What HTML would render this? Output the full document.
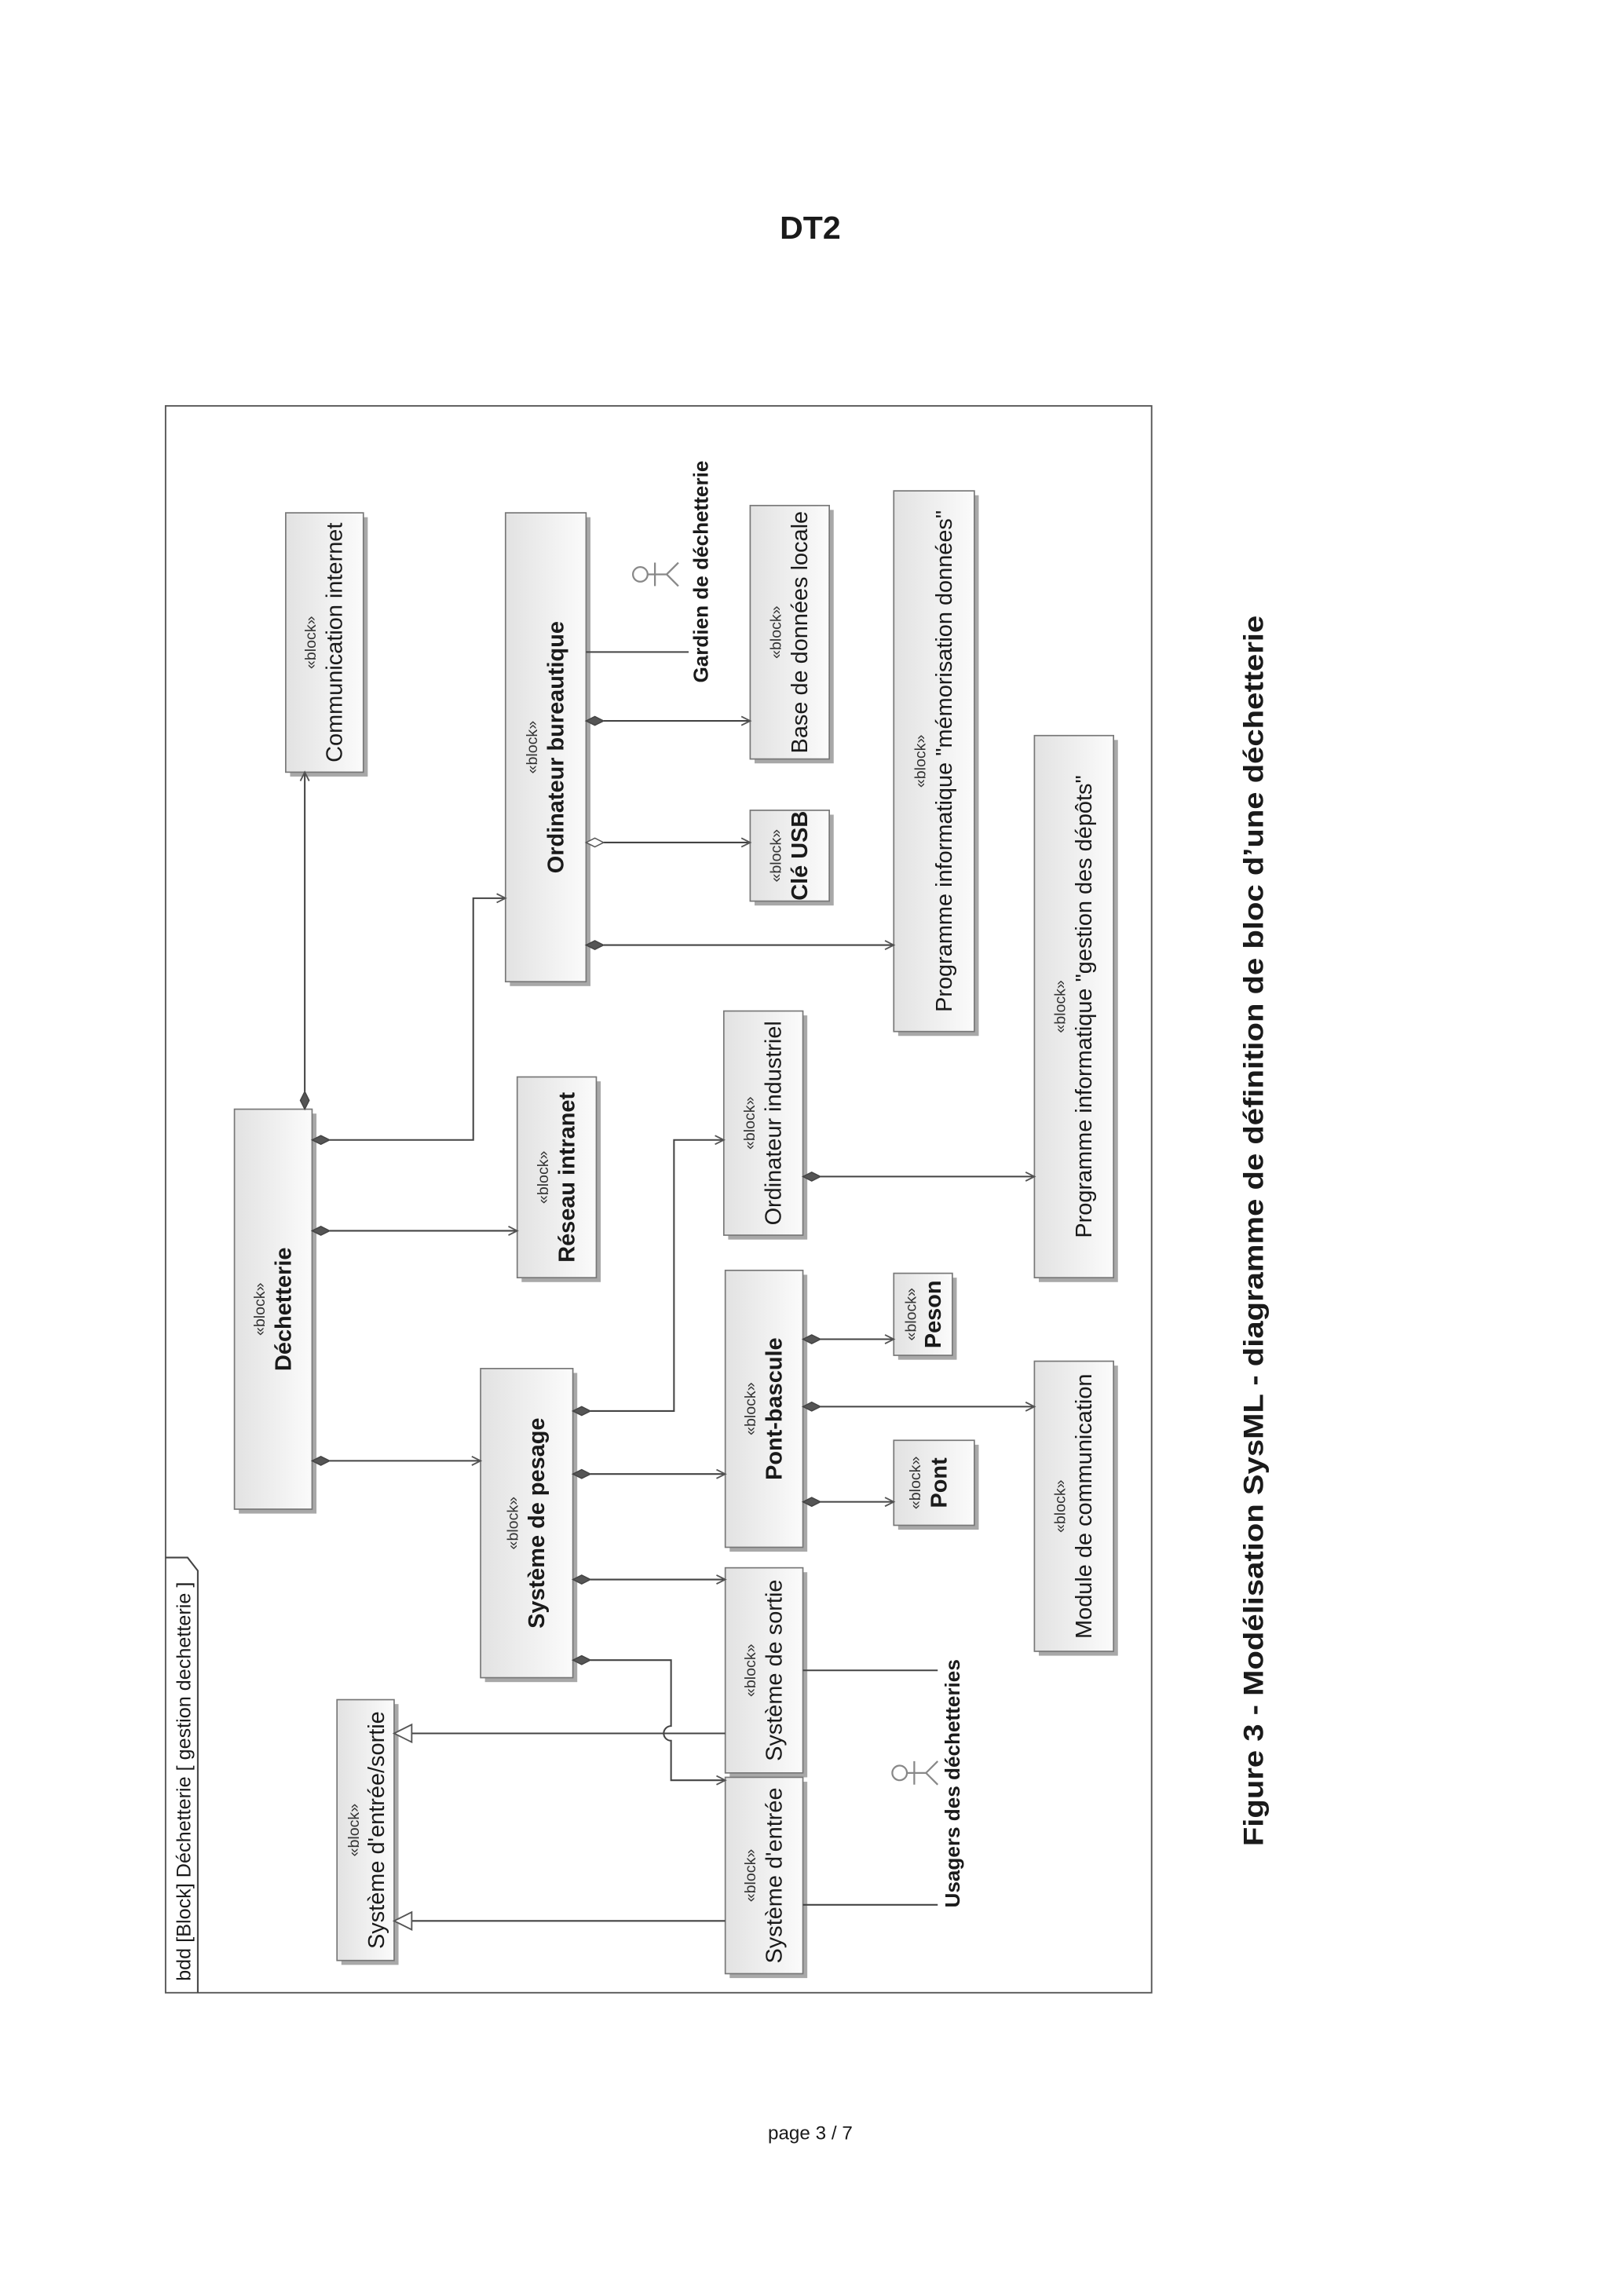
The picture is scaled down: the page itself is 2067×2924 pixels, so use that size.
<!DOCTYPE html>
<html><head><meta charset="utf-8"><style>
html,body{margin:0;padding:0;background:#fff;}
svg{display:block;}
text{font-family:"Liberation Sans",Arial,sans-serif;fill:#1a1a1a;}
.st{font-size:10.5px;fill:#333;}
.nm{font-size:15.5px;}
.b{font-weight:bold;}
.ln{stroke:#444;stroke-width:1.1;fill:none;}
.dm{fill:#555;stroke:#444;stroke-width:0.8;}
.ar{stroke:#555;stroke-width:1;fill:none;}
.bx{fill:url(#g);stroke:#777;stroke-width:0.9;}
.sh{fill:#a8a8a8;}
</style></head><body>
<svg width="2067" height="2924" viewBox="0 0 2067 2924" xmlns="http://www.w3.org/2000/svg">
<defs><linearGradient id="g" x1="0" y1="0" x2="1" y2="0"><stop offset="0" stop-color="#e2e2e2"/><stop offset="1" stop-color="#fbfbfb"/></linearGradient></defs>
<g transform="scale(1.866)">
<text x="553" y="163" text-anchor="middle" style="font-size:22px;font-weight:bold">DT2</text>
<text x="553" y="1460" text-anchor="middle" style="font-size:13px">page 3 /  7</text>
<text transform="translate(862,840) rotate(-90)" text-anchor="middle" textLength="840" lengthAdjust="spacingAndGlyphs" style="font-size:19px;font-weight:bold">Figure 3 - Modélisation SysML - diagramme de définition de bloc d’une déchetterie</text>

<rect x="113" y="277" width="673" height="1083" fill="none" stroke="#555" stroke-width="1"/>
<path class="ln" d="M135 1360 V1072 L128 1063 H113"/>
<text transform="translate(130,1352) rotate(-90)" style="font-size:13.5px">bdd [Block] Déchetterie [ gestion dechetterie ]</text>

<g>
<rect class="sh" x="198" y="353" width="53" height="177"/><rect class="bx" x="195" y="350" width="53" height="177"/>
<g transform="translate(221.5,438.5) rotate(-90)"><text class="st" y="-6" text-anchor="middle">«block»</text><text class="nm" y="12" text-anchor="middle">Communication internet</text></g>

<rect class="sh" x="348" y="353" width="55" height="320"/><rect class="bx" x="345" y="350" width="55" height="320"/>
<g transform="translate(372.5,510) rotate(-90)"><text class="st" y="-6" text-anchor="middle">«block»</text><text class="nm b" y="12" text-anchor="middle">Ordinateur bureautique</text></g>

<rect class="sh" x="515" y="348" width="54" height="173"/><rect class="bx" x="512" y="345" width="54" height="173"/>
<g transform="translate(539,431.5) rotate(-90)"><text class="st" y="-6" text-anchor="middle">«block»</text><text class="nm" y="12" text-anchor="middle">Base de données locale</text></g>

<rect class="sh" x="515" y="556" width="54" height="62"/><rect class="bx" x="512" y="553" width="54" height="62"/>
<g transform="translate(539,584) rotate(-90)"><text class="st" y="-6" text-anchor="middle">«block»</text><text class="nm b" y="12" text-anchor="middle">Clé USB</text></g>

<rect class="sh" x="613" y="338" width="55" height="369"/><rect class="bx" x="610" y="335" width="55" height="369"/>
<g transform="translate(637.5,519.5) rotate(-90)"><text class="st" y="-6" text-anchor="middle">«block»</text><text class="nm" y="12" text-anchor="middle">Programme informatique  "mémorisation données"</text></g>

<rect class="sh" x="709" y="505" width="54" height="370"/><rect class="bx" x="706" y="502" width="54" height="370"/>
<g transform="translate(733,687) rotate(-90)"><text class="st" y="-6" text-anchor="middle">«block»</text><text class="nm" y="12" text-anchor="middle">Programme informatique "gestion des dépôts"</text></g>

<rect class="sh" x="163" y="760" width="53" height="273"/><rect class="bx" x="160" y="757" width="53" height="273"/>
<g transform="translate(186.5,893.5) rotate(-90)"><text class="st" y="-6" text-anchor="middle">«block»</text><text class="nm b" y="12" text-anchor="middle">Déchetterie</text></g>

<rect class="sh" x="356" y="738" width="54" height="137"/><rect class="bx" x="353" y="735" width="54" height="137"/>
<g transform="translate(380,803.5) rotate(-90)"><text class="st" y="-6" text-anchor="middle">«block»</text><text class="nm b" y="12" text-anchor="middle">Réseau intranet</text></g>

<rect class="sh" x="497" y="693" width="54" height="153"/><rect class="bx" x="494" y="690" width="54" height="153"/>
<g transform="translate(521,766.5) rotate(-90)"><text class="st" y="-6" text-anchor="middle">«block»</text><text class="nm" y="12" text-anchor="middle">Ordinateur industriel</text></g>

<rect class="sh" x="331" y="937" width="63" height="211"/><rect class="bx" x="328" y="934" width="63" height="211"/>
<g transform="translate(359.5,1039.5) rotate(-90)"><text class="st" y="-6" text-anchor="middle">«block»</text><text class="nm b" y="12" text-anchor="middle">Système de pesage</text></g>

<rect class="sh" x="498" y="870" width="53" height="189"/><rect class="bx" x="495" y="867" width="53" height="189"/>
<g transform="translate(521.5,961.5) rotate(-90)"><text class="st" y="-6" text-anchor="middle">«block»</text><text class="nm b" y="12" text-anchor="middle">Pont-bascule</text></g>

<rect class="sh" x="613" y="872" width="40" height="56"/><rect class="bx" x="610" y="869" width="40" height="56"/>
<g transform="translate(630,897) rotate(-90)"><text class="st" y="-5" text-anchor="middle">«block»</text><text class="nm b" y="12" text-anchor="middle">Peson</text></g>

<rect class="sh" x="613" y="986" width="55" height="58"/><rect class="bx" x="610" y="983" width="55" height="58"/>
<g transform="translate(634,1012) rotate(-90)"><text class="st" y="-6" text-anchor="middle">«block»</text><text class="nm b" y="12" text-anchor="middle">Pont</text></g>

<rect class="sh" x="709" y="932" width="54" height="198"/><rect class="bx" x="706" y="929" width="54" height="198"/>
<g transform="translate(733,1028) rotate(-90)"><text class="st" y="-6" text-anchor="middle">«block»</text><text class="nm" y="12" text-anchor="middle">Module de communication</text></g>

<rect class="sh" x="498" y="1073" width="53" height="140"/><rect class="bx" x="495" y="1070" width="53" height="140"/>
<g transform="translate(521.5,1140) rotate(-90)"><text class="st" y="-6" text-anchor="middle">«block»</text><text class="nm" y="12" text-anchor="middle">Système de sortie</text></g>

<rect class="sh" x="233" y="1163" width="39" height="178"/><rect class="bx" x="230" y="1160" width="39" height="178"/>
<g transform="translate(251,1249) rotate(-90)"><text class="st" y="-6" text-anchor="middle">«block»</text><text class="nm" y="11" text-anchor="middle">Système d'entrée/sortie</text></g>

<rect class="sh" x="498" y="1216" width="53" height="134"/><rect class="bx" x="495" y="1213" width="53" height="134"/>
<g transform="translate(521.5,1280) rotate(-90)"><text class="st" y="-6" text-anchor="middle">«block»</text><text class="nm" y="12" text-anchor="middle">Système d'entrée</text></g>
</g>

<path class="ln" d="M208 745 V527"/><polygon class="dm" points="208,757 205,751 208,745 211,751"/><polyline class="ar" points="205,533 208,527 211,533"/>

<path class="ln" d="M225 778 H323 V613 H345"/><polygon class="dm" points="213,778 219,775 225,778 219,781"/><polyline class="ar" points="339,610 345,613 339,616"/>
<path class="ln" d="M225 840 H353"/><polygon class="dm" points="213,840 219,837 225,840 219,843"/><polyline class="ar" points="347,837 353,840 347,843"/>
<path class="ln" d="M225 997 H328"/><polygon class="dm" points="213,997 219,994 225,997 219,1000"/><polyline class="ar" points="322,994 328,997 322,1000"/>

<path class="ln" d="M412 492 H512"/><polygon class="dm" points="400,492 406,489 412,492 406,495"/><polyline class="ar" points="506,489 512,492 506,495"/>
<path class="ln" d="M412 575 H512"/><polygon points="400,575 406,572 412,575 406,578" fill="#fff" stroke="#555" stroke-width="0.8"/><polyline class="ar" points="506,572 512,575 506,578"/>
<path class="ln" d="M412 645 H610"/><polygon class="dm" points="400,645 406,642 412,645 406,648"/><polyline class="ar" points="604,642 610,645 604,648"/>
<path class="ln" d="M400 445 H470"/>

<path class="ln" d="M403 963 H460 V778 H494"/><polygon class="dm" points="391,963 397,960 403,963 397,966"/><polyline class="ar" points="488,775 494,778 488,781"/>
<path class="ln" d="M403 1006 H495"/><polygon class="dm" points="391,1006 397,1003 403,1006 397,1009"/><polyline class="ar" points="489,1003 495,1006 489,1009"/>
<path class="ln" d="M403 1078 H495"/><polygon class="dm" points="391,1078 397,1075 403,1078 397,1081"/><polyline class="ar" points="489,1075 495,1078 489,1081"/>
<path class="ln" d="M403 1133 H458 V1178 A5 5 0 0 0 458 1188 V1215 H495"/><polygon class="dm" points="391,1133 397,1130 403,1133 397,1136"/><polyline class="ar" points="489,1212 495,1215 489,1218"/>

<path class="ln" d="M560 803 H706"/><polygon class="dm" points="548,803 554,800 560,803 554,806"/><polyline class="ar" points="700,800 706,803 700,806"/>
<path class="ln" d="M560 914 H610"/><polygon class="dm" points="548,914 554,911 560,914 554,917"/><polyline class="ar" points="604,911 610,914 604,917"/>
<path class="ln" d="M560 960 H706"/><polygon class="dm" points="548,960 554,957 560,960 554,963"/><polyline class="ar" points="700,957 706,960 700,963"/>
<path class="ln" d="M560 1025 H610"/><polygon class="dm" points="548,1025 554,1022 560,1025 554,1028"/><polyline class="ar" points="604,1022 610,1025 604,1028"/>

<path class="ln" d="M495 1183 H281"/><polygon points="269,1183 281,1177 281,1189" fill="#fff" stroke="#555" stroke-width="1"/>
<path class="ln" d="M495 1311 H281"/><polygon points="269,1311 281,1305 281,1317" fill="#fff" stroke="#555" stroke-width="1"/>

<path class="ln" d="M548 1140 H640"/>
<path class="ln" d="M548 1300 H640"/>

<g stroke="#888" stroke-width="1.2" fill="none">
<circle cx="437" cy="392" r="5"/><path d="M442 392 H455 M447 384 V400 M455 392 L463 384 M455 392 L463 400"/>
<circle cx="614" cy="1210" r="5"/><path d="M619 1210 H632 M624 1202 V1218 M632 1210 L640 1202 M632 1210 L640 1218"/>
</g>
<text transform="translate(483,466) rotate(-90)" class="b" style="font-size:14px">Gardien de déchetterie</text>
<text transform="translate(655,1302) rotate(-90)" class="b" style="font-size:14px">Usagers des déchetteries</text>
</g>
</svg>
</body></html>
